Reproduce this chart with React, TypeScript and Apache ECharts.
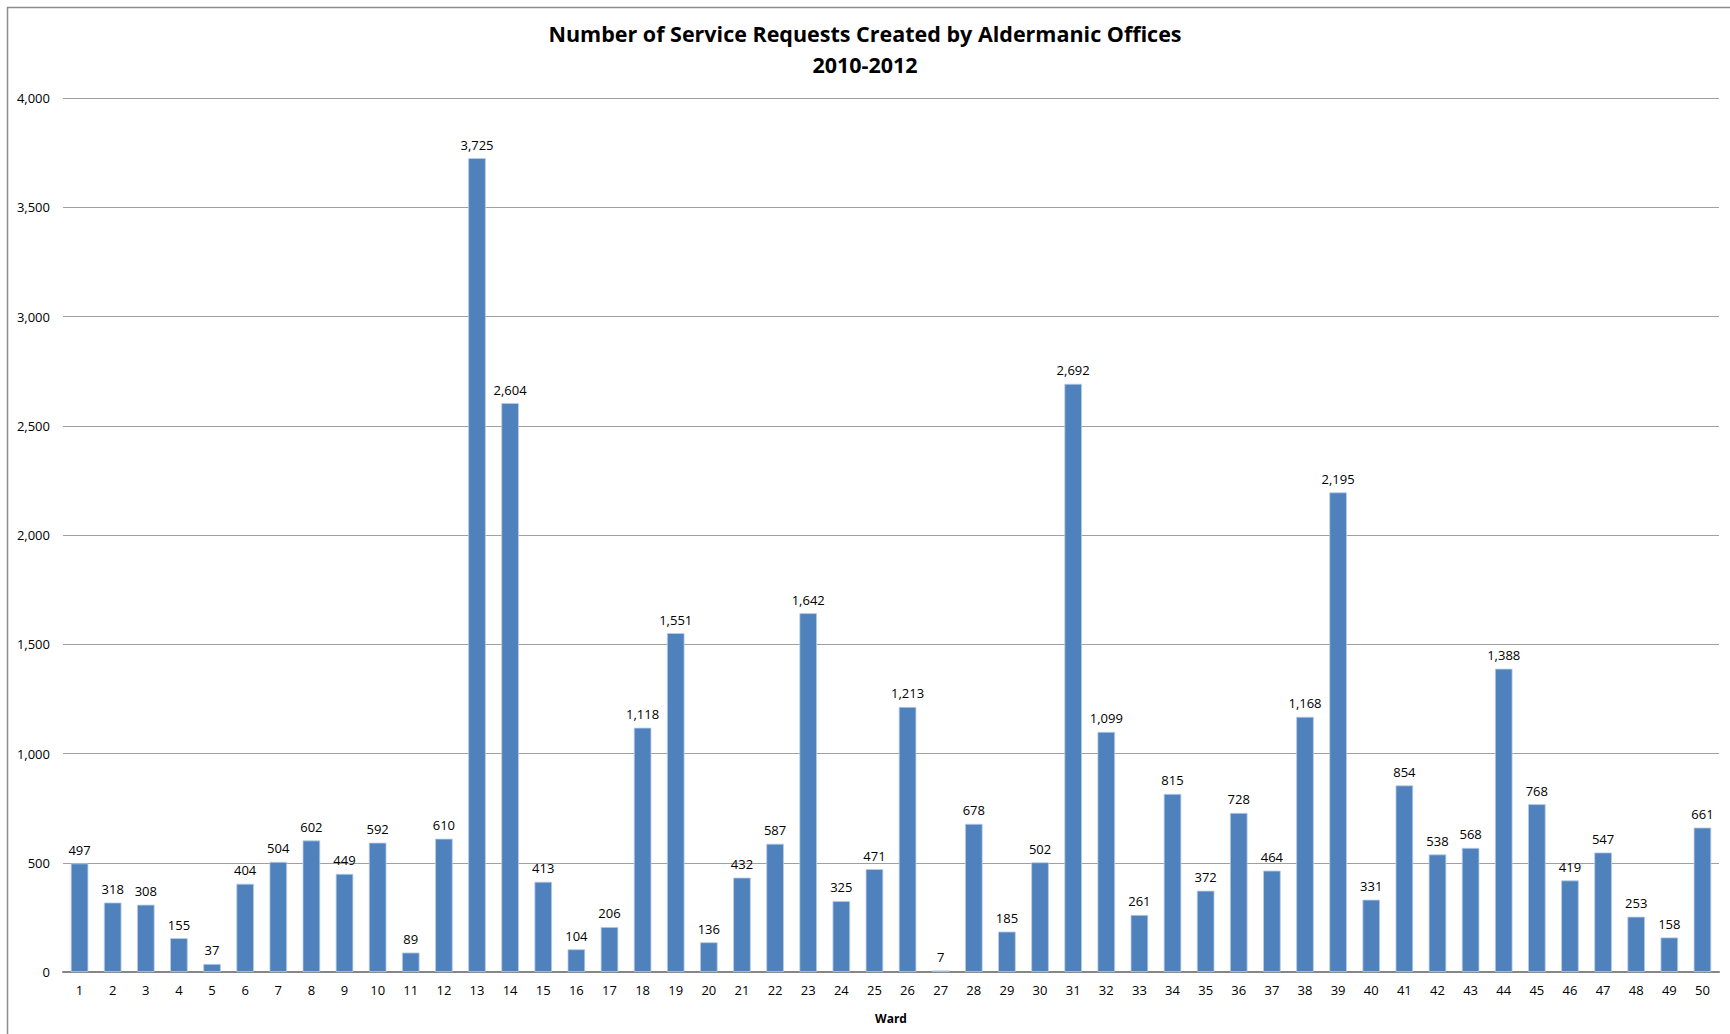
import React, { useEffect, useRef } from "react";
import * as echarts from "echarts";

const wards = Array.from({ length: 50 }, (_, i) => String(i + 1));
const requests = [
  497, 318, 308, 155, 37, 404, 504, 602, 449, 592,
  89, 610, 3725, 2604, 413, 104, 206, 1118, 1551, 136,
  432, 587, 1642, 325, 471, 1213, 7, 678, 185, 502,
  2692, 1099, 261, 815, 372, 728, 464, 1168, 2195, 331,
  854, 538, 568, 1388, 768, 419, 547, 253, 158, 661,
];
const titleText = "Number of Service Requests Created by Aldermanic Offices\n2010-2012";
const xAxisName = "Ward";

const fmt = (v: number) => v.toLocaleString("en-US");
const FONT = "'Open Sans', 'Noto Sans', sans-serif";

export default function App() {
  const ref = useRef<HTMLDivElement>(null);
  useEffect(() => {
    if (!ref.current) return;
    const chart = echarts.init(ref.current, null, { renderer: "svg" });
    chart.setOption({
      animation: false,
      backgroundColor: "#ffffff",
      textStyle: { fontFamily: FONT },
      graphic: [
        {
          type: "rect",
          shape: { x: 7.5, y: 7.5, width: 1800, height: 1100 },
          style: { fill: "none", stroke: "#8c8c8c", lineWidth: 1.5 },
          silent: true,
          z: -1,
        },
      ],
      title: {
        text: titleText,
        left: "center",
        top: 13,
        textStyle: {
          fontFamily: FONT,
          fontSize: 21.5,
          fontWeight: "bold",
          color: "#000",
          lineHeight: 31,
        },
      },
      grid: { left: 63, right: 11, top: 98, bottom: 62 },
      xAxis: {
        type: "category",
        data: wards,
        name: xAxisName,
        nameLocation: "middle",
        nameGap: 40,
        nameTextStyle: { fontFamily: FONT, fontSize: 12, fontWeight: "bold", color: "#000" },
        axisLine: { lineStyle: { color: "#868686", width: 2 } },
        axisTick: { show: false },
        axisLabel: { fontFamily: FONT, fontSize: 13, color: "#000", margin: 11, interval: 0 },
      },
      yAxis: {
        type: "value",
        min: 0,
        max: 4000,
        interval: 500,
        axisLine: { show: false },
        axisTick: { show: false },
        splitLine: { lineStyle: { color: "#a0a0a0", width: 1 } },
        axisLabel: {
          fontFamily: FONT,
          fontSize: 13,
          color: "#000",
          margin: 13,
          formatter: (v: number) => fmt(v),
        },
      },
      series: [
        {
          type: "bar",
          data: requests,
          barWidth: "53%",
          itemStyle: { color: "#4F81BD", borderColor: "#b9cde5", borderWidth: 0.8 },
          label: {
            show: true,
            position: "top",
            distance: 7,
            fontFamily: FONT,
            fontSize: 13,
            color: "#000",
            formatter: (p: any) => fmt(p.value),
          },
        },
      ],
    });
    return () => chart.dispose();
  }, []);
  return (
    <div
      ref={ref}
      style={{ position: "fixed", left: 0, top: 0, width: 1730, height: 1034 }}
    />
  );
}
